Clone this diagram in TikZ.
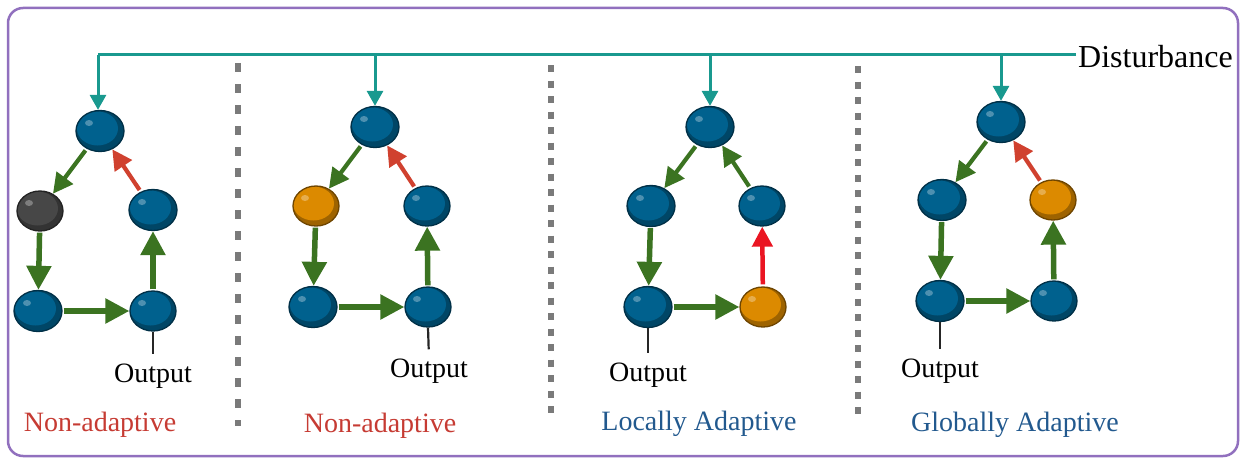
\documentclass[tikz,border=0pt]{standalone}
\usepackage{fontspec}
\setmainfont{Liberation Serif}
\usetikzlibrary{arrows.meta,shapes.geometric}
\definecolor{ballblue}{HTML}{00618E}
\definecolor{ballorange}{HTML}{DC8A00}
\definecolor{balldark}{HTML}{474747}
\definecolor{agreen}{HTML}{3B7321}
\definecolor{ared}{HTML}{D0412F}
\definecolor{abright}{HTML}{EA1522}
\definecolor{dteal}{HTML}{19998F}
\definecolor{labred}{HTML}{C63B33}
\definecolor{labblue}{HTML}{22598E}
\definecolor{framepurple}{HTML}{9170BE}
\definecolor{sepgray}{HTML}{7A7A7A}
\tikzset{
  ball/.style={ellipse, minimum width=48pt, minimum height=41pt, inner sep=0pt,
    draw=#1!50!black, line width=1.3pt, fill=#1!72!black,
    path picture={
      \fill[#1] ([xshift=-2.5pt,yshift=2.5pt]path picture bounding box.center) ellipse (20.5pt and 17pt);
      \fill[white,opacity=0.3] ([xshift=-11pt,yshift=8pt]path picture bounding box.center) ellipse (4pt and 3pt);}},
  sball/.style={ball=#1, minimum width=46pt, minimum height=40pt},
  garrow/.style={draw=agreen, line width=5.5pt, -{Triangle[length=24pt,width=24pt]}, shorten <=1pt},
  gdiag/.style={draw=agreen, line width=4.2pt, -{Triangle[length=20pt,width=20pt]}, shorten <=2pt},
  rdiag/.style={draw=ared, line width=4.2pt, -{Triangle[length=20pt,width=20pt]}, shorten <=2pt},
  rvert/.style={draw=abright, line width=4.5pt, -{Triangle[length=20pt,width=20pt]}, shorten <=2pt},
  tealline/.style={draw=dteal, line width=3pt},
  tealarrow/.style={draw=dteal, line width=3pt, -{Triangle[length=15pt,width=16pt]}},
  stick/.style={draw=black!85, line width=2.2pt, shorten >=9pt},
  outtext/.style={font=\fontsize{28}{30}\selectfont, anchor=base, inner sep=0pt},
  plabel/.style={font=\fontsize{28}{30}\selectfont, anchor=base, inner sep=0pt},
  sepa/.style={draw=sepgray, line width=5.5pt, dash pattern=on 9pt off 12pt},
  sepb/.style={draw=sepgray, line width=5.5pt, dash pattern=on 7pt off 8.5pt},
}
\begin{document}
\begin{tikzpicture}[x=1pt,y=-1pt]
\useasboundingbox (0,0) rectangle (1241,460);
\draw[framepurple, line width=2.5pt, rounded corners=15pt] (8,8) rectangle (1238,456);

% separators
\draw[sepa] (238,63) -- (238,426);
\draw[sepb] (551,65) -- (551,418);
\draw[sepb] (858,66) -- (858,414);

% disturbance
\node[font=\fontsize{32}{34}\selectfont, anchor=west, inner sep=0pt] (dist) at (1078,57) {Disturbance};

% panel 1
\node[ball=ballblue] (t1) at (100,131) {};
\node[sball=balldark] (l1) at (40,211) {};
\node[ball=ballblue] (r1) at (153,210) {};
\node[ball=ballblue] (bl1) at (38,311) {};
\node[sball=ballblue] (br1) at (153,311) {};
\node[outtext] (o1) at (153,382) {Output};
\node[plabel, text=labred] (lab1) at (100,431) {Non-adaptive};
\draw[gdiag] (t1) -- (l1);
\draw[rdiag] (r1) -- (t1);
\draw[garrow] (l1) -- (bl1);
\draw[garrow] (bl1) -- (br1);
\draw[garrow] (br1) -- (r1);
\draw[stick] (br1.south) -- (o1.north);

% panel 2
\node[ball=ballblue] (t2) at (375,127) {};
\node[sball=ballorange] (l2) at (316,206) {};
\node[sball=ballblue] (r2) at (427,206) {};
\node[ball=ballblue] (bl2) at (313,307) {};
\node[sball=ballblue] (br2) at (428,307) {};
\node[outtext] (o2) at (429,377) {Output};
\node[plabel, text=labred] (lab2) at (380,432) {Non-adaptive};
\draw[gdiag] (t2) -- (l2);
\draw[rdiag] (r2) -- (t2);
\draw[garrow] (l2) -- (bl2);
\draw[garrow] (bl2) -- (br2);
\draw[garrow] (br2) -- (r2);
\draw[stick] (br2.south) -- (o2.north);

% panel 3
\node[ball=ballblue] (t3) at (710,127) {};
\node[ball=ballblue] (l3) at (651,206) {};
\node[sball=ballblue] (r3) at (762,206) {};
\node[ball=ballblue] (bl3) at (648,307) {};
\node[sball=ballorange] (br3) at (763,307) {};
\node[outtext] (o3) at (648,381) {Output};
\node[plabel, text=labblue] (lab3) at (699,430) {Locally Adaptive};
\draw[gdiag] (t3) -- (l3);
\draw[gdiag] (r3) -- (t3);
\draw[garrow] (l3) -- (bl3);
\draw[garrow] (bl3) -- (br3);
\draw[rvert] (br3) -- (r3);
\draw[stick] (bl3.south) -- (o3.north);

% panel 4
\node[ball=ballblue] (t4) at (1001,122) {};
\node[ball=ballblue] (l4) at (942,200) {};
\node[sball=ballorange] (r4) at (1053,200) {};
\node[ball=ballblue] (bl4) at (940,301) {};
\node[sball=ballblue] (br4) at (1054,301) {};
\node[outtext] (o4) at (940,377) {Output};
\node[plabel, text=labblue] (lab4) at (1015,431) {Globally Adaptive};
\draw[gdiag] (t4) -- (l4);
\draw[rdiag] (r4) -- (t4);
\draw[garrow] (l4) -- (bl4);
\draw[garrow] (bl4) -- (br4);
\draw[garrow] (br4) -- (r4);
\draw[stick] (bl4.south) -- (o4.north);

% disturbance line and drops
\coordinate (dl) at (98,55);
\draw[tealline] ([xshift=-2pt]dist.west |- dl) -- (dl);
\draw[tealarrow] (dl) -- (dl |- t1.north);
\draw[tealarrow] (t2 |- dl) -- (t2.north);
\draw[tealarrow] (t3 |- dl) -- (t3.north);
\draw[tealarrow] (t4 |- dl) -- (t4.north);
\end{tikzpicture}
\end{document}
